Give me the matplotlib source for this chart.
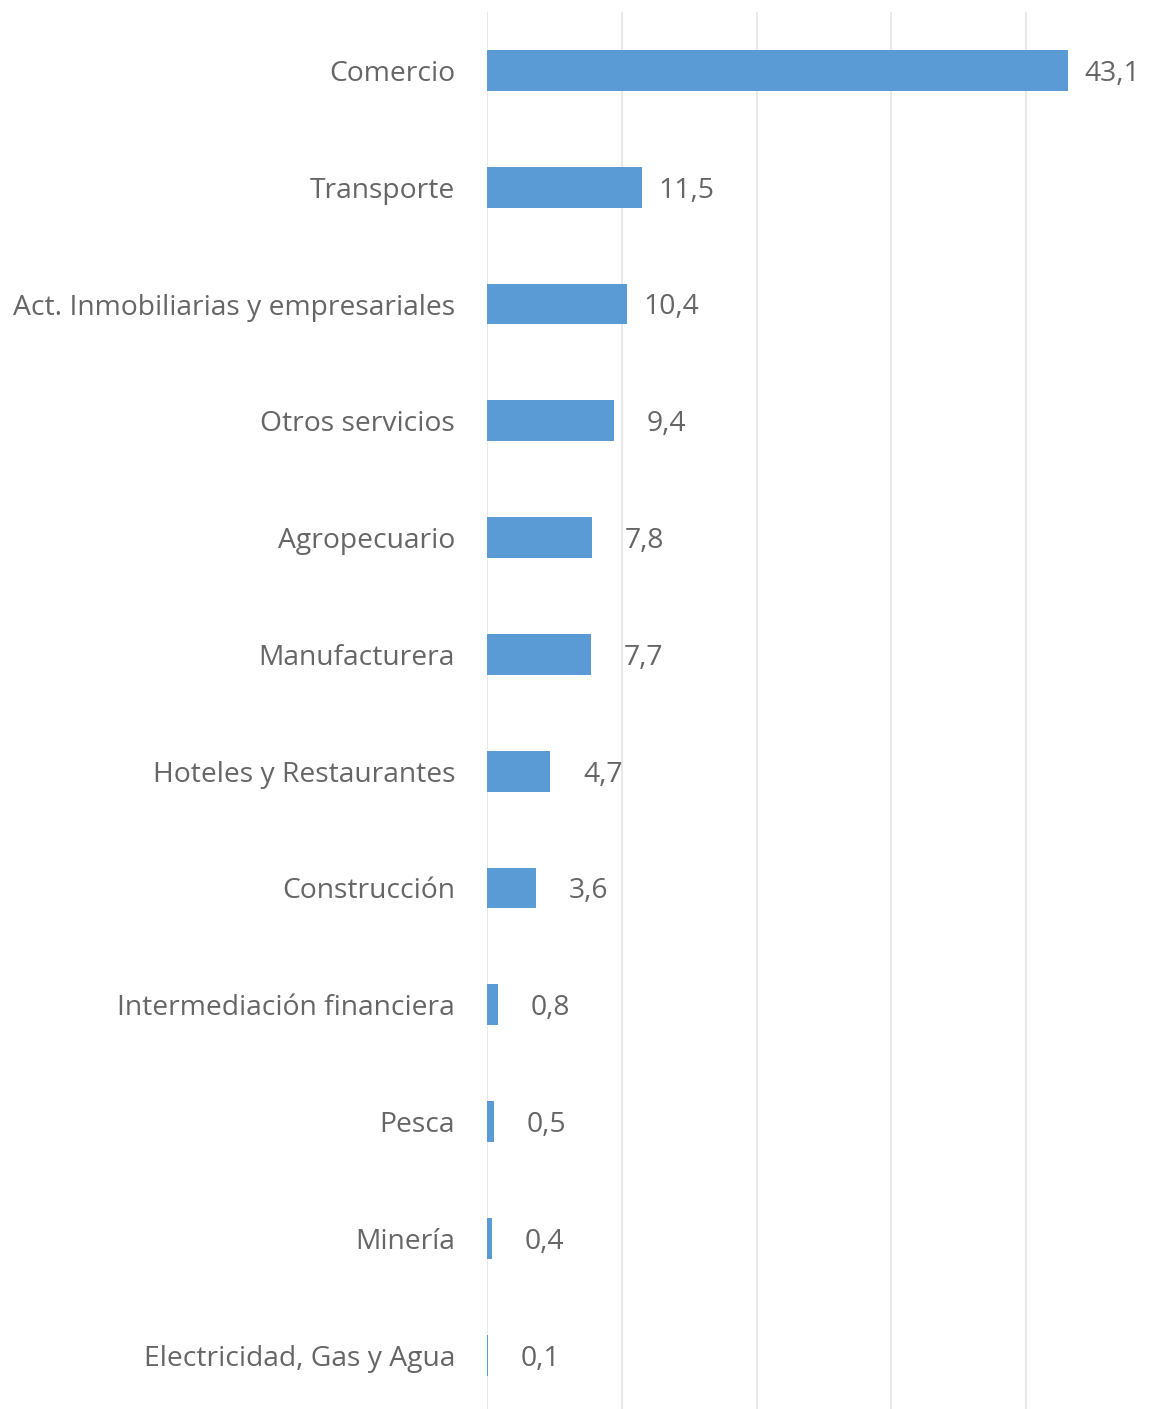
import matplotlib
matplotlib.use("Agg")
import matplotlib.pyplot as plt

categories = [
    "Comercio",
    "Transporte",
    "Act. Inmobiliarias y empresariales",
    "Otros servicios",
    "Agropecuario",
    "Manufacturera",
    "Hoteles y Restaurantes",
    "Construcción",
    "Intermediación financiera",
    "Pesca",
    "Minería",
    "Electricidad, Gas y Agua",
]
values = [43.1, 11.5, 10.4, 9.4, 7.8, 7.7, 4.7, 3.6, 0.8, 0.5, 0.4, 0.1]
value_labels = ["43,1", "11,5", "10,4", "9,4", "7,8", "7,7",
                "4,7", "3,6", "0,8", "0,5", "0,4", "0,1"]

W, H = 1154, 1409
fig = plt.figure(figsize=(W / 100, H / 100), dpi=100)
plt.rcParams['font.family'] = ['Open Sans', 'DejaVu Sans']

# axes placed in pixel terms: left at x=487, top at y=12, 116.8 px per row
row = 116.8
top = 12
bottom = top + row * len(categories)
ax = fig.add_axes([487 / W, (H - bottom) / H, (W - 487) / W, (bottom - top) / H])

bar_color = "#5B9BD5"
text_color = "#666666"
fs = 20.3

ypos = list(range(len(categories)))
ax.barh(ypos, values, height=0.35, color=bar_color, zorder=3)
ax.set_ylim(len(categories) - 0.5, -0.5)
ax.set_xlim(0, (W - 487) / 13.48)
ax.set_xticks([0, 10, 20, 30, 40])
ax.xaxis.grid(True, color="#e4e4e4", linewidth=1.2, zorder=0)
ax.tick_params(axis="x", length=0, labelbottom=False)
ax.tick_params(axis="y", length=0, pad=23)
ax.set_yticks(ypos)
ax.set_yticklabels(categories, fontsize=fs, color=text_color)
for s in ax.spines.values():
    s.set_visible(False)

for y, v, lab in zip(ypos, values, value_labels):
    ax.annotate(lab, (v, y), xytext=(52, 0), textcoords="offset points",
                ha="right", va="center_baseline", fontsize=fs, color=text_color)

fig.savefig("out.png", dpi=100)
